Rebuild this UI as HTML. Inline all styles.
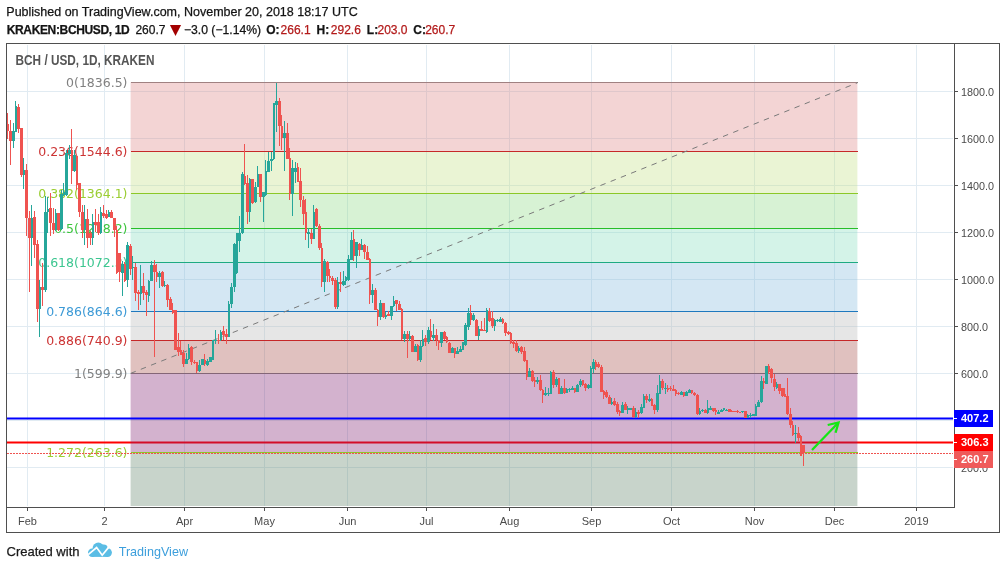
<!DOCTYPE html><html><head><meta charset="utf-8"><style>
html,body{margin:0;padding:0;background:#fff;width:1006px;height:569px;overflow:hidden}
svg{position:absolute;left:0;top:0}
</style></head><body>
<svg width="1006" height="569" viewBox="0 0 1006 569" shape-rendering="crispEdges">
<text x="6.3" y="15.6" font-family='"Liberation Sans", Arial, sans-serif' font-size="12.5" fill="#141414" stroke="#141414" stroke-width="0.25">Published on TradingView.com, November 20, 2018 18:17 UTC</text>
<text x="6.7" y="33.9" font-family='"Liberation Sans", Arial, sans-serif' font-size="12" font-weight="bold" fill="#141414" stroke="#141414" stroke-width="0.25" letter-spacing="-0.35">KRAKEN:BCHUSD, 1D</text>
<text x="135.4" y="33.9" font-family='"Liberation Sans", Arial, sans-serif' font-size="12" fill="#141414" stroke="#141414" stroke-width="0.25">260.7</text>
<path d="M169.9 25 L181.1 25 L175.5 35.9 Z" fill="#a30000" shape-rendering="auto"/>
<text x="183.9" y="33.9" font-family='"Liberation Sans", Arial, sans-serif' font-size="12.2" fill="#141414" stroke="#141414" stroke-width="0.25">&#8722;3.0 (&#8722;1.14%)</text>
<text x="266.2" y="33.9" font-family='"Liberation Sans", Arial, sans-serif' font-size="12" font-weight="bold" fill="#141414" stroke="#141414" stroke-width="0.25">O:</text>
<text x="280.6" y="33.9" font-family='"Liberation Sans", Arial, sans-serif' font-size="12" fill="#b31b1b" stroke="#b31b1b" stroke-width="0.25">266.1</text>
<text x="316.6" y="33.9" font-family='"Liberation Sans", Arial, sans-serif' font-size="12" font-weight="bold" fill="#141414" stroke="#141414" stroke-width="0.25">H:</text>
<text x="330.8" y="33.9" font-family='"Liberation Sans", Arial, sans-serif' font-size="12" fill="#b31b1b" stroke="#b31b1b" stroke-width="0.25">292.6</text>
<text x="366.8" y="33.9" font-family='"Liberation Sans", Arial, sans-serif' font-size="12" font-weight="bold" fill="#141414" stroke="#141414" stroke-width="0.25">L:</text>
<text x="377.5" y="33.9" font-family='"Liberation Sans", Arial, sans-serif' font-size="12" fill="#b31b1b" stroke="#b31b1b" stroke-width="0.25">203.0</text>
<text x="413.3" y="33.9" font-family='"Liberation Sans", Arial, sans-serif' font-size="12" font-weight="bold" fill="#141414" stroke="#141414" stroke-width="0.25">C:</text>
<text x="425.2" y="33.9" font-family='"Liberation Sans", Arial, sans-serif' font-size="12" fill="#b31b1b" stroke="#b31b1b" stroke-width="0.25">260.7</text>
<rect x="27" y="45" width="1" height="461" fill="#e1ebf2"/>
<rect x="104" y="45" width="1" height="461" fill="#e1ebf2"/>
<rect x="184" y="45" width="1" height="461" fill="#e1ebf2"/>
<rect x="264" y="45" width="1" height="461" fill="#e1ebf2"/>
<rect x="347" y="45" width="1" height="461" fill="#e1ebf2"/>
<rect x="426" y="45" width="1" height="461" fill="#e1ebf2"/>
<rect x="509" y="45" width="1" height="461" fill="#e1ebf2"/>
<rect x="591" y="45" width="1" height="461" fill="#e1ebf2"/>
<rect x="671" y="45" width="1" height="461" fill="#e1ebf2"/>
<rect x="754" y="45" width="1" height="461" fill="#e1ebf2"/>
<rect x="834" y="45" width="1" height="461" fill="#e1ebf2"/>
<rect x="916" y="45" width="1" height="461" fill="#e1ebf2"/>
<rect x="7" y="467" width="946" height="1" fill="#e1ebf2"/>
<rect x="7" y="420" width="946" height="1" fill="#e1ebf2"/>
<rect x="7" y="373" width="946" height="1" fill="#e1ebf2"/>
<rect x="7" y="326" width="946" height="1" fill="#e1ebf2"/>
<rect x="7" y="279" width="946" height="1" fill="#e1ebf2"/>
<rect x="7" y="232" width="946" height="1" fill="#e1ebf2"/>
<rect x="7" y="185" width="946" height="1" fill="#e1ebf2"/>
<rect x="7" y="138" width="946" height="1" fill="#e1ebf2"/>
<rect x="7" y="91" width="946" height="1" fill="#e1ebf2"/>
<rect x="7" y="441.5" width="946" height="2" fill="#ff0000" shape-rendering="auto"/>
<rect x="131" y="82" width="727" height="1" fill="#808080"/>
<rect x="131" y="373" width="727" height="1" fill="#808080"/>
<rect x="130.6" y="82.0" width="726.8" height="69.4" fill="rgb(221,132,132)" fill-opacity="0.35" shape-rendering="auto"/>
<rect x="130.6" y="151.4" width="726.8" height="42.4" fill="rgb(195,224,132)" fill-opacity="0.35" shape-rendering="auto"/>
<rect x="130.6" y="193.8" width="726.8" height="34.3" fill="rgb(141,218,132)" fill-opacity="0.35" shape-rendering="auto"/>
<rect x="130.6" y="228.1" width="726.8" height="34.3" fill="rgb(132,221,189)" fill-opacity="0.35" shape-rendering="auto"/>
<rect x="130.6" y="262.4" width="726.8" height="48.8" fill="rgb(132,186,221)" fill-opacity="0.35" shape-rendering="auto"/>
<rect x="130.6" y="311.2" width="726.8" height="29.1" fill="rgb(184,184,184)" fill-opacity="0.35" shape-rendering="auto"/>
<rect x="130.6" y="340.3" width="726.8" height="33.1" fill="rgb(166,78,72)" fill-opacity="0.35" shape-rendering="auto"/>
<rect x="130.6" y="373.4" width="726.8" height="79.0" fill="rgb(129,35,115)" fill-opacity="0.35" shape-rendering="auto"/>
<rect x="130.6" y="452.5" width="726.8" height="53.5" fill="rgb(98,132,106)" fill-opacity="0.35" shape-rendering="auto"/>
<rect x="131" y="151" width="727" height="1" fill="#c62828"/>
<rect x="131" y="193" width="727" height="1" fill="#8cc828"/>
<rect x="131" y="228" width="727" height="1" fill="#28be28"/>
<rect x="131" y="262" width="727" height="1" fill="#1eaa82"/>
<rect x="131" y="311" width="727" height="1" fill="#1e78be"/>
<rect x="131" y="340" width="727" height="1" fill="#c62828"/>
<rect x="131" y="452" width="727" height="1" fill="#8cc828"/>
<line x1="130.6" y1="373.4" x2="857.4" y2="82.8" stroke="#7a7a7a" stroke-width="1" stroke-dasharray="5.5 5.5" shape-rendering="auto"/>
<text x="127.5" y="87.2" text-anchor="end" font-family="DejaVu Sans, sans-serif" font-size="12.5" fill="#808080">0(1836.5)</text>
<text x="127.5" y="155.8" text-anchor="end" font-family="DejaVu Sans, sans-serif" font-size="12.5" fill="#cc3333">0.236(1544.6)</text>
<text x="127.5" y="198.2" text-anchor="end" font-family="DejaVu Sans, sans-serif" font-size="12.5" fill="#9acd32">0.382(1364.1)</text>
<text x="127.5" y="232.5" text-anchor="end" font-family="DejaVu Sans, sans-serif" font-size="12.5" fill="#3cc43c">0.5(1218.2)</text>
<text x="127.5" y="266.8" text-anchor="end" font-family="DejaVu Sans, sans-serif" font-size="12.5" fill="#3cc690">0.618(1072.3)</text>
<text x="127.5" y="315.6" text-anchor="end" font-family="DejaVu Sans, sans-serif" font-size="12.5" fill="#3d9ad6">0.786(864.6)</text>
<text x="127.5" y="344.7" text-anchor="end" font-family="DejaVu Sans, sans-serif" font-size="12.5" fill="#cc3333">0.886(740.9)</text>
<text x="127.5" y="377.8" text-anchor="end" font-family="DejaVu Sans, sans-serif" font-size="12.5" fill="#808080">1(599.9)</text>
<text x="127.5" y="456.9" text-anchor="end" font-family="DejaVu Sans, sans-serif" font-size="12.5" fill="#9acd32">1.272(263.6)</text>
<rect x="7" y="417.5" width="946" height="2" fill="#0000ff" shape-rendering="auto"/>
<line x1="7" y1="453.5" x2="953" y2="453.5" stroke="#ef5350" stroke-width="1" stroke-dasharray="2 1"/>
<g shape-rendering="crispEdges"><rect x="7" y="113" width="1" height="26" fill="#ef5350"/><rect x="7" y="124" width="2" height="7" fill="#ef5350"/><rect x="10" y="120" width="1" height="45" fill="#ef5350"/><rect x="9" y="131" width="3" height="10" fill="#ef5350"/><rect x="13" y="123" width="1" height="25" fill="#26a69a"/><rect x="12" y="131" width="3" height="10" fill="#26a69a"/><rect x="15" y="101" width="1" height="31" fill="#26a69a"/><rect x="15" y="106" width="2" height="26" fill="#26a69a"/><rect x="18" y="104" width="1" height="29" fill="#ef5350"/><rect x="17" y="107" width="3" height="22" fill="#ef5350"/><rect x="21" y="128" width="1" height="49" fill="#ef5350"/><rect x="20" y="128" width="3" height="47" fill="#ef5350"/><rect x="23" y="158" width="1" height="31" fill="#26a69a"/><rect x="23" y="170" width="2" height="5" fill="#26a69a"/><rect x="26" y="164" width="1" height="72" fill="#ef5350"/><rect x="25" y="170" width="3" height="48" fill="#ef5350"/><rect x="29" y="211" width="1" height="81" fill="#ef5350"/><rect x="28" y="218" width="3" height="20" fill="#ef5350"/><rect x="31" y="205" width="1" height="61" fill="#26a69a"/><rect x="31" y="218" width="2" height="20" fill="#26a69a"/><rect x="34" y="211" width="1" height="47" fill="#ef5350"/><rect x="33" y="217" width="3" height="28" fill="#ef5350"/><rect x="37" y="240" width="1" height="82" fill="#ef5350"/><rect x="36" y="244" width="3" height="65" fill="#ef5350"/><rect x="39" y="280" width="1" height="57" fill="#26a69a"/><rect x="39" y="287" width="2" height="22" fill="#26a69a"/><rect x="42" y="263" width="1" height="43" fill="#ef5350"/><rect x="41" y="287" width="3" height="3" fill="#ef5350"/><rect x="45" y="196" width="1" height="96" fill="#26a69a"/><rect x="44" y="212" width="3" height="78" fill="#26a69a"/><rect x="47" y="197" width="1" height="36" fill="#26a69a"/><rect x="47" y="209" width="2" height="3" fill="#26a69a"/><rect x="50" y="193" width="1" height="43" fill="#ef5350"/><rect x="49" y="208" width="3" height="15" fill="#ef5350"/><rect x="53" y="208" width="1" height="26" fill="#ef5350"/><rect x="52" y="223" width="3" height="7" fill="#ef5350"/><rect x="55" y="209" width="1" height="22" fill="#26a69a"/><rect x="55" y="213" width="2" height="17" fill="#26a69a"/><rect x="58" y="213" width="1" height="18" fill="#ef5350"/><rect x="57" y="213" width="3" height="17" fill="#ef5350"/><rect x="61" y="190" width="1" height="40" fill="#26a69a"/><rect x="60" y="194" width="3" height="35" fill="#26a69a"/><rect x="63" y="183" width="1" height="13" fill="#26a69a"/><rect x="63" y="192" width="2" height="3" fill="#26a69a"/><rect x="66" y="150" width="1" height="46" fill="#26a69a"/><rect x="65" y="153" width="3" height="42" fill="#26a69a"/><rect x="69" y="145" width="1" height="14" fill="#26a69a"/><rect x="68" y="150" width="3" height="4" fill="#26a69a"/><rect x="71" y="129" width="1" height="55" fill="#ef5350"/><rect x="71" y="150" width="2" height="21" fill="#ef5350"/><rect x="74" y="150" width="1" height="22" fill="#26a69a"/><rect x="73" y="155" width="3" height="16" fill="#26a69a"/><rect x="76" y="155" width="1" height="35" fill="#ef5350"/><rect x="76" y="156" width="2" height="29" fill="#ef5350"/><rect x="79" y="183" width="1" height="34" fill="#ef5350"/><rect x="78" y="183" width="3" height="29" fill="#ef5350"/><rect x="82" y="205" width="1" height="33" fill="#ef5350"/><rect x="81" y="212" width="3" height="18" fill="#ef5350"/><rect x="84" y="205" width="1" height="40" fill="#26a69a"/><rect x="84" y="219" width="2" height="11" fill="#26a69a"/><rect x="87" y="209" width="1" height="39" fill="#ef5350"/><rect x="86" y="219" width="3" height="19" fill="#ef5350"/><rect x="90" y="231" width="1" height="14" fill="#ef5350"/><rect x="89" y="233" width="3" height="5" fill="#ef5350"/><rect x="92" y="214" width="1" height="31" fill="#26a69a"/><rect x="92" y="222" width="2" height="16" fill="#26a69a"/><rect x="95" y="209" width="1" height="23" fill="#ef5350"/><rect x="94" y="222" width="3" height="3" fill="#ef5350"/><rect x="98" y="214" width="1" height="21" fill="#ef5350"/><rect x="97" y="222" width="3" height="11" fill="#ef5350"/><rect x="100" y="207" width="1" height="27" fill="#26a69a"/><rect x="100" y="212" width="2" height="21" fill="#26a69a"/><rect x="103" y="205" width="1" height="13" fill="#ef5350"/><rect x="102" y="213" width="3" height="3" fill="#ef5350"/><rect x="106" y="210" width="1" height="9" fill="#ef5350"/><rect x="105" y="214" width="3" height="4" fill="#ef5350"/><rect x="108" y="210" width="1" height="7" fill="#26a69a"/><rect x="108" y="212" width="2" height="5" fill="#26a69a"/><rect x="111" y="210" width="1" height="8" fill="#ef5350"/><rect x="110" y="212" width="3" height="6" fill="#ef5350"/><rect x="114" y="218" width="1" height="19" fill="#ef5350"/><rect x="113" y="218" width="3" height="12" fill="#ef5350"/><rect x="116" y="226" width="1" height="48" fill="#ef5350"/><rect x="116" y="230" width="2" height="43" fill="#ef5350"/><rect x="119" y="253" width="1" height="29" fill="#ef5350"/><rect x="118" y="253" width="3" height="19" fill="#ef5350"/><rect x="122" y="261" width="1" height="35" fill="#26a69a"/><rect x="121" y="264" width="3" height="9" fill="#26a69a"/><rect x="124" y="262" width="1" height="20" fill="#ef5350"/><rect x="124" y="264" width="2" height="17" fill="#ef5350"/><rect x="127" y="242" width="1" height="45" fill="#26a69a"/><rect x="126" y="245" width="3" height="35" fill="#26a69a"/><rect x="130" y="244" width="1" height="31" fill="#ef5350"/><rect x="129" y="246" width="3" height="23" fill="#ef5350"/><rect x="132" y="256" width="1" height="24" fill="#26a69a"/><rect x="132" y="267" width="2" height="1" fill="#26a69a"/><rect x="135" y="263" width="1" height="38" fill="#ef5350"/><rect x="134" y="267" width="3" height="26" fill="#ef5350"/><rect x="138" y="290" width="1" height="20" fill="#ef5350"/><rect x="137" y="292" width="3" height="2" fill="#ef5350"/><rect x="140" y="265" width="1" height="40" fill="#26a69a"/><rect x="140" y="286" width="2" height="8" fill="#26a69a"/><rect x="143" y="273" width="1" height="27" fill="#ef5350"/><rect x="142" y="286" width="3" height="7" fill="#ef5350"/><rect x="146" y="290" width="1" height="26" fill="#ef5350"/><rect x="145" y="292" width="3" height="3" fill="#ef5350"/><rect x="148" y="280" width="1" height="22" fill="#26a69a"/><rect x="148" y="281" width="2" height="15" fill="#26a69a"/><rect x="151" y="261" width="1" height="20" fill="#26a69a"/><rect x="150" y="265" width="3" height="16" fill="#26a69a"/><rect x="154" y="260" width="1" height="97" fill="#ef5350"/><rect x="153" y="265" width="3" height="7" fill="#ef5350"/><rect x="156" y="264" width="1" height="18" fill="#ef5350"/><rect x="156" y="272" width="2" height="5" fill="#ef5350"/><rect x="159" y="271" width="1" height="17" fill="#26a69a"/><rect x="158" y="273" width="3" height="4" fill="#26a69a"/><rect x="162" y="271" width="1" height="16" fill="#ef5350"/><rect x="161" y="272" width="3" height="14" fill="#ef5350"/><rect x="164" y="281" width="1" height="6" fill="#26a69a"/><rect x="164" y="285" width="2" height="1" fill="#26a69a"/><rect x="167" y="284" width="1" height="23" fill="#ef5350"/><rect x="166" y="285" width="3" height="15" fill="#ef5350"/><rect x="170" y="297" width="1" height="13" fill="#ef5350"/><rect x="169" y="299" width="3" height="11" fill="#ef5350"/><rect x="172" y="303" width="1" height="11" fill="#ef5350"/><rect x="172" y="310" width="2" height="3" fill="#ef5350"/><rect x="175" y="310" width="1" height="40" fill="#ef5350"/><rect x="174" y="310" width="3" height="40" fill="#ef5350"/><rect x="178" y="333" width="1" height="23" fill="#ef5350"/><rect x="177" y="347" width="3" height="5" fill="#ef5350"/><rect x="180" y="341" width="1" height="14" fill="#ef5350"/><rect x="180" y="350" width="2" height="5" fill="#ef5350"/><rect x="183" y="350" width="1" height="17" fill="#ef5350"/><rect x="182" y="353" width="3" height="11" fill="#ef5350"/><rect x="186" y="353" width="1" height="11" fill="#26a69a"/><rect x="185" y="359" width="3" height="5" fill="#26a69a"/><rect x="188" y="344" width="1" height="16" fill="#26a69a"/><rect x="188" y="348" width="2" height="11" fill="#26a69a"/><rect x="191" y="346" width="1" height="19" fill="#ef5350"/><rect x="190" y="347" width="3" height="15" fill="#ef5350"/><rect x="194" y="360" width="1" height="4" fill="#ef5350"/><rect x="193" y="362" width="3" height="1" fill="#ef5350"/><rect x="196" y="362" width="1" height="11" fill="#ef5350"/><rect x="196" y="362" width="2" height="9" fill="#ef5350"/><rect x="199" y="360" width="1" height="12" fill="#26a69a"/><rect x="198" y="365" width="3" height="6" fill="#26a69a"/><rect x="202" y="359" width="1" height="6" fill="#26a69a"/><rect x="201" y="359" width="3" height="6" fill="#26a69a"/><rect x="204" y="354" width="1" height="12" fill="#ef5350"/><rect x="204" y="360" width="2" height="4" fill="#ef5350"/><rect x="207" y="359" width="1" height="7" fill="#26a69a"/><rect x="206" y="361" width="3" height="4" fill="#26a69a"/><rect x="210" y="357" width="1" height="5" fill="#26a69a"/><rect x="209" y="357" width="3" height="5" fill="#26a69a"/><rect x="212" y="340" width="1" height="20" fill="#26a69a"/><rect x="212" y="340" width="2" height="20" fill="#26a69a"/><rect x="215" y="330" width="1" height="14" fill="#26a69a"/><rect x="214" y="340" width="3" height="1" fill="#26a69a"/><rect x="218" y="334" width="1" height="10" fill="#ef5350"/><rect x="217" y="340" width="3" height="1" fill="#ef5350"/><rect x="220" y="330" width="1" height="11" fill="#26a69a"/><rect x="220" y="332" width="2" height="8" fill="#26a69a"/><rect x="223" y="326" width="1" height="14" fill="#ef5350"/><rect x="222" y="331" width="3" height="4" fill="#ef5350"/><rect x="226" y="329" width="1" height="15" fill="#ef5350"/><rect x="225" y="334" width="3" height="3" fill="#ef5350"/><rect x="228" y="301" width="1" height="36" fill="#26a69a"/><rect x="228" y="304" width="2" height="33" fill="#26a69a"/><rect x="231" y="283" width="1" height="25" fill="#26a69a"/><rect x="230" y="287" width="3" height="17" fill="#26a69a"/><rect x="234" y="243" width="1" height="49" fill="#26a69a"/><rect x="233" y="244" width="3" height="43" fill="#26a69a"/><rect x="236" y="233" width="1" height="41" fill="#26a69a"/><rect x="236" y="233" width="2" height="40" fill="#26a69a"/><rect x="239" y="216" width="1" height="36" fill="#26a69a"/><rect x="238" y="233" width="3" height="8" fill="#26a69a"/><rect x="242" y="172" width="1" height="62" fill="#26a69a"/><rect x="241" y="174" width="3" height="59" fill="#26a69a"/><rect x="244" y="144" width="1" height="41" fill="#ef5350"/><rect x="244" y="176" width="2" height="8" fill="#ef5350"/><rect x="247" y="175" width="1" height="49" fill="#ef5350"/><rect x="246" y="183" width="3" height="29" fill="#ef5350"/><rect x="249" y="178" width="1" height="44" fill="#26a69a"/><rect x="249" y="179" width="2" height="33" fill="#26a69a"/><rect x="252" y="179" width="1" height="25" fill="#ef5350"/><rect x="251" y="179" width="3" height="24" fill="#ef5350"/><rect x="255" y="182" width="1" height="21" fill="#26a69a"/><rect x="254" y="187" width="3" height="15" fill="#26a69a"/><rect x="257" y="166" width="1" height="21" fill="#26a69a"/><rect x="257" y="174" width="2" height="13" fill="#26a69a"/><rect x="260" y="174" width="1" height="28" fill="#ef5350"/><rect x="259" y="174" width="3" height="23" fill="#ef5350"/><rect x="263" y="192" width="1" height="30" fill="#26a69a"/><rect x="262" y="192" width="3" height="5" fill="#26a69a"/><rect x="265" y="160" width="1" height="36" fill="#26a69a"/><rect x="265" y="171" width="2" height="24" fill="#26a69a"/><rect x="268" y="152" width="1" height="20" fill="#26a69a"/><rect x="267" y="161" width="3" height="11" fill="#26a69a"/><rect x="271" y="152" width="1" height="19" fill="#26a69a"/><rect x="270" y="159" width="3" height="2" fill="#26a69a"/><rect x="273" y="103" width="1" height="57" fill="#26a69a"/><rect x="273" y="103" width="2" height="56" fill="#26a69a"/><rect x="276" y="83" width="1" height="49" fill="#26a69a"/><rect x="275" y="101" width="3" height="4" fill="#26a69a"/><rect x="279" y="98" width="1" height="48" fill="#ef5350"/><rect x="278" y="101" width="3" height="25" fill="#ef5350"/><rect x="281" y="115" width="1" height="35" fill="#ef5350"/><rect x="281" y="126" width="2" height="12" fill="#ef5350"/><rect x="284" y="121" width="1" height="50" fill="#26a69a"/><rect x="283" y="133" width="3" height="5" fill="#26a69a"/><rect x="287" y="123" width="1" height="36" fill="#ef5350"/><rect x="286" y="133" width="3" height="26" fill="#ef5350"/><rect x="289" y="148" width="1" height="52" fill="#ef5350"/><rect x="289" y="158" width="2" height="36" fill="#ef5350"/><rect x="292" y="160" width="1" height="56" fill="#26a69a"/><rect x="291" y="168" width="3" height="26" fill="#26a69a"/><rect x="295" y="162" width="1" height="21" fill="#26a69a"/><rect x="294" y="168" width="3" height="4" fill="#26a69a"/><rect x="297" y="163" width="1" height="19" fill="#ef5350"/><rect x="297" y="167" width="2" height="15" fill="#ef5350"/><rect x="300" y="168" width="1" height="39" fill="#ef5350"/><rect x="299" y="181" width="3" height="19" fill="#ef5350"/><rect x="303" y="196" width="1" height="29" fill="#ef5350"/><rect x="302" y="200" width="3" height="14" fill="#ef5350"/><rect x="305" y="199" width="1" height="41" fill="#ef5350"/><rect x="305" y="212" width="2" height="21" fill="#ef5350"/><rect x="308" y="228" width="1" height="20" fill="#26a69a"/><rect x="307" y="232" width="3" height="2" fill="#26a69a"/><rect x="311" y="229" width="1" height="15" fill="#ef5350"/><rect x="310" y="233" width="3" height="6" fill="#ef5350"/><rect x="313" y="205" width="1" height="34" fill="#26a69a"/><rect x="313" y="212" width="2" height="27" fill="#26a69a"/><rect x="316" y="208" width="1" height="19" fill="#ef5350"/><rect x="315" y="209" width="3" height="17" fill="#ef5350"/><rect x="319" y="224" width="1" height="26" fill="#ef5350"/><rect x="318" y="226" width="3" height="22" fill="#ef5350"/><rect x="321" y="243" width="1" height="44" fill="#ef5350"/><rect x="321" y="248" width="2" height="34" fill="#ef5350"/><rect x="324" y="259" width="1" height="33" fill="#26a69a"/><rect x="323" y="261" width="3" height="21" fill="#26a69a"/><rect x="327" y="261" width="1" height="21" fill="#ef5350"/><rect x="326" y="262" width="3" height="14" fill="#ef5350"/><rect x="329" y="269" width="1" height="13" fill="#ef5350"/><rect x="329" y="276" width="2" height="2" fill="#ef5350"/><rect x="332" y="276" width="1" height="9" fill="#ef5350"/><rect x="331" y="278" width="3" height="3" fill="#ef5350"/><rect x="335" y="278" width="1" height="31" fill="#ef5350"/><rect x="334" y="280" width="3" height="27" fill="#ef5350"/><rect x="337" y="277" width="1" height="32" fill="#26a69a"/><rect x="337" y="282" width="2" height="25" fill="#26a69a"/><rect x="340" y="272" width="1" height="20" fill="#ef5350"/><rect x="339" y="282" width="3" height="2" fill="#ef5350"/><rect x="343" y="271" width="1" height="15" fill="#26a69a"/><rect x="342" y="281" width="3" height="4" fill="#26a69a"/><rect x="345" y="276" width="1" height="9" fill="#26a69a"/><rect x="345" y="277" width="2" height="4" fill="#26a69a"/><rect x="348" y="255" width="1" height="26" fill="#26a69a"/><rect x="347" y="259" width="3" height="21" fill="#26a69a"/><rect x="351" y="232" width="1" height="28" fill="#26a69a"/><rect x="350" y="240" width="3" height="20" fill="#26a69a"/><rect x="353" y="230" width="1" height="31" fill="#ef5350"/><rect x="353" y="239" width="2" height="17" fill="#ef5350"/><rect x="356" y="242" width="1" height="26" fill="#26a69a"/><rect x="355" y="242" width="3" height="14" fill="#26a69a"/><rect x="359" y="243" width="1" height="13" fill="#ef5350"/><rect x="358" y="244" width="3" height="6" fill="#ef5350"/><rect x="361" y="239" width="1" height="11" fill="#26a69a"/><rect x="361" y="245" width="2" height="5" fill="#26a69a"/><rect x="364" y="244" width="1" height="15" fill="#ef5350"/><rect x="363" y="245" width="3" height="7" fill="#ef5350"/><rect x="367" y="246" width="1" height="14" fill="#ef5350"/><rect x="366" y="252" width="3" height="8" fill="#ef5350"/><rect x="369" y="258" width="1" height="46" fill="#ef5350"/><rect x="369" y="259" width="2" height="36" fill="#ef5350"/><rect x="372" y="284" width="1" height="19" fill="#26a69a"/><rect x="371" y="290" width="3" height="5" fill="#26a69a"/><rect x="375" y="288" width="1" height="22" fill="#ef5350"/><rect x="374" y="290" width="3" height="20" fill="#ef5350"/><rect x="377" y="309" width="1" height="17" fill="#ef5350"/><rect x="377" y="310" width="2" height="7" fill="#ef5350"/><rect x="380" y="300" width="1" height="20" fill="#26a69a"/><rect x="379" y="303" width="3" height="14" fill="#26a69a"/><rect x="383" y="303" width="1" height="15" fill="#ef5350"/><rect x="382" y="303" width="3" height="14" fill="#ef5350"/><rect x="385" y="312" width="1" height="7" fill="#26a69a"/><rect x="385" y="315" width="2" height="2" fill="#26a69a"/><rect x="388" y="311" width="1" height="5" fill="#ef5350"/><rect x="387" y="314" width="3" height="2" fill="#ef5350"/><rect x="391" y="306" width="1" height="14" fill="#26a69a"/><rect x="390" y="306" width="3" height="10" fill="#26a69a"/><rect x="393" y="296" width="1" height="11" fill="#26a69a"/><rect x="393" y="301" width="2" height="5" fill="#26a69a"/><rect x="396" y="300" width="1" height="11" fill="#ef5350"/><rect x="395" y="300" width="3" height="4" fill="#ef5350"/><rect x="399" y="301" width="1" height="9" fill="#ef5350"/><rect x="398" y="304" width="3" height="6" fill="#ef5350"/><rect x="401" y="308" width="1" height="32" fill="#ef5350"/><rect x="401" y="309" width="2" height="30" fill="#ef5350"/><rect x="404" y="331" width="1" height="11" fill="#26a69a"/><rect x="403" y="334" width="3" height="5" fill="#26a69a"/><rect x="407" y="331" width="1" height="27" fill="#ef5350"/><rect x="406" y="334" width="3" height="5" fill="#ef5350"/><rect x="409" y="331" width="1" height="10" fill="#26a69a"/><rect x="409" y="336" width="2" height="3" fill="#26a69a"/><rect x="412" y="335" width="1" height="17" fill="#ef5350"/><rect x="411" y="336" width="3" height="16" fill="#ef5350"/><rect x="415" y="344" width="1" height="8" fill="#26a69a"/><rect x="414" y="346" width="3" height="6" fill="#26a69a"/><rect x="417" y="344" width="1" height="17" fill="#ef5350"/><rect x="417" y="345" width="2" height="15" fill="#ef5350"/><rect x="420" y="340" width="1" height="22" fill="#26a69a"/><rect x="419" y="346" width="3" height="14" fill="#26a69a"/><rect x="422" y="330" width="1" height="17" fill="#26a69a"/><rect x="422" y="339" width="2" height="7" fill="#26a69a"/><rect x="425" y="335" width="1" height="11" fill="#ef5350"/><rect x="424" y="338" width="3" height="4" fill="#ef5350"/><rect x="428" y="327" width="1" height="17" fill="#26a69a"/><rect x="427" y="330" width="3" height="12" fill="#26a69a"/><rect x="430" y="319" width="1" height="21" fill="#ef5350"/><rect x="430" y="331" width="2" height="6" fill="#ef5350"/><rect x="433" y="324" width="1" height="17" fill="#26a69a"/><rect x="432" y="335" width="3" height="3" fill="#26a69a"/><rect x="436" y="329" width="1" height="17" fill="#ef5350"/><rect x="435" y="335" width="3" height="5" fill="#ef5350"/><rect x="438" y="340" width="1" height="10" fill="#ef5350"/><rect x="438" y="340" width="2" height="3" fill="#ef5350"/><rect x="441" y="332" width="1" height="15" fill="#26a69a"/><rect x="440" y="332" width="3" height="11" fill="#26a69a"/><rect x="444" y="331" width="1" height="9" fill="#ef5350"/><rect x="443" y="332" width="3" height="7" fill="#ef5350"/><rect x="446" y="336" width="1" height="7" fill="#ef5350"/><rect x="446" y="337" width="2" height="5" fill="#ef5350"/><rect x="449" y="342" width="1" height="11" fill="#ef5350"/><rect x="448" y="343" width="3" height="10" fill="#ef5350"/><rect x="452" y="347" width="1" height="6" fill="#26a69a"/><rect x="451" y="348" width="3" height="5" fill="#26a69a"/><rect x="454" y="348" width="1" height="10" fill="#ef5350"/><rect x="454" y="348" width="2" height="6" fill="#ef5350"/><rect x="457" y="347" width="1" height="7" fill="#26a69a"/><rect x="456" y="351" width="3" height="3" fill="#26a69a"/><rect x="460" y="346" width="1" height="6" fill="#26a69a"/><rect x="459" y="349" width="3" height="3" fill="#26a69a"/><rect x="462" y="342" width="1" height="8" fill="#26a69a"/><rect x="462" y="342" width="2" height="8" fill="#26a69a"/><rect x="465" y="323" width="1" height="23" fill="#26a69a"/><rect x="464" y="325" width="3" height="20" fill="#26a69a"/><rect x="468" y="308" width="1" height="22" fill="#26a69a"/><rect x="467" y="313" width="3" height="14" fill="#26a69a"/><rect x="470" y="305" width="1" height="20" fill="#ef5350"/><rect x="470" y="313" width="2" height="7" fill="#ef5350"/><rect x="473" y="313" width="1" height="8" fill="#26a69a"/><rect x="472" y="315" width="3" height="5" fill="#26a69a"/><rect x="476" y="319" width="1" height="17" fill="#ef5350"/><rect x="475" y="320" width="3" height="16" fill="#ef5350"/><rect x="478" y="326" width="1" height="14" fill="#26a69a"/><rect x="478" y="329" width="2" height="7" fill="#26a69a"/><rect x="481" y="321" width="1" height="10" fill="#ef5350"/><rect x="480" y="329" width="3" height="2" fill="#ef5350"/><rect x="484" y="318" width="1" height="13" fill="#ef5350"/><rect x="483" y="330" width="3" height="1" fill="#ef5350"/><rect x="486" y="308" width="1" height="25" fill="#26a69a"/><rect x="486" y="310" width="2" height="22" fill="#26a69a"/><rect x="489" y="308" width="1" height="14" fill="#ef5350"/><rect x="488" y="311" width="3" height="10" fill="#ef5350"/><rect x="492" y="311" width="1" height="17" fill="#ef5350"/><rect x="491" y="318" width="3" height="8" fill="#ef5350"/><rect x="494" y="319" width="1" height="12" fill="#26a69a"/><rect x="494" y="320" width="2" height="6" fill="#26a69a"/><rect x="497" y="319" width="1" height="3" fill="#26a69a"/><rect x="496" y="320" width="3" height="1" fill="#26a69a"/><rect x="500" y="317" width="1" height="5" fill="#26a69a"/><rect x="499" y="319" width="3" height="3" fill="#26a69a"/><rect x="502" y="318" width="1" height="6" fill="#ef5350"/><rect x="502" y="319" width="2" height="4" fill="#ef5350"/><rect x="505" y="322" width="1" height="14" fill="#ef5350"/><rect x="504" y="323" width="3" height="10" fill="#ef5350"/><rect x="508" y="331" width="1" height="4" fill="#ef5350"/><rect x="507" y="332" width="3" height="2" fill="#ef5350"/><rect x="510" y="332" width="1" height="12" fill="#ef5350"/><rect x="510" y="333" width="2" height="10" fill="#ef5350"/><rect x="513" y="340" width="1" height="8" fill="#ef5350"/><rect x="512" y="342" width="3" height="2" fill="#ef5350"/><rect x="516" y="340" width="1" height="12" fill="#ef5350"/><rect x="515" y="343" width="3" height="8" fill="#ef5350"/><rect x="518" y="346" width="1" height="7" fill="#26a69a"/><rect x="518" y="348" width="2" height="3" fill="#26a69a"/><rect x="521" y="346" width="1" height="8" fill="#ef5350"/><rect x="520" y="347" width="3" height="5" fill="#ef5350"/><rect x="524" y="347" width="1" height="15" fill="#ef5350"/><rect x="523" y="351" width="3" height="10" fill="#ef5350"/><rect x="526" y="360" width="1" height="20" fill="#ef5350"/><rect x="526" y="360" width="2" height="17" fill="#ef5350"/><rect x="529" y="368" width="1" height="9" fill="#26a69a"/><rect x="528" y="371" width="3" height="6" fill="#26a69a"/><rect x="532" y="370" width="1" height="12" fill="#ef5350"/><rect x="531" y="371" width="3" height="10" fill="#ef5350"/><rect x="534" y="377" width="1" height="10" fill="#ef5350"/><rect x="534" y="380" width="2" height="2" fill="#ef5350"/><rect x="537" y="377" width="1" height="7" fill="#26a69a"/><rect x="536" y="380" width="3" height="2" fill="#26a69a"/><rect x="540" y="375" width="1" height="16" fill="#ef5350"/><rect x="539" y="380" width="3" height="10" fill="#ef5350"/><rect x="542" y="389" width="1" height="14" fill="#ef5350"/><rect x="542" y="390" width="2" height="5" fill="#ef5350"/><rect x="545" y="387" width="1" height="9" fill="#26a69a"/><rect x="544" y="393" width="3" height="2" fill="#26a69a"/><rect x="548" y="388" width="1" height="8" fill="#26a69a"/><rect x="547" y="393" width="3" height="1" fill="#26a69a"/><rect x="550" y="371" width="1" height="23" fill="#26a69a"/><rect x="550" y="372" width="2" height="22" fill="#26a69a"/><rect x="553" y="370" width="1" height="18" fill="#ef5350"/><rect x="552" y="372" width="3" height="13" fill="#ef5350"/><rect x="556" y="377" width="1" height="10" fill="#26a69a"/><rect x="555" y="379" width="3" height="6" fill="#26a69a"/><rect x="558" y="378" width="1" height="16" fill="#ef5350"/><rect x="558" y="378" width="2" height="16" fill="#ef5350"/><rect x="561" y="386" width="1" height="8" fill="#26a69a"/><rect x="560" y="388" width="3" height="6" fill="#26a69a"/><rect x="564" y="379" width="1" height="15" fill="#ef5350"/><rect x="563" y="388" width="3" height="5" fill="#ef5350"/><rect x="566" y="388" width="1" height="5" fill="#26a69a"/><rect x="566" y="389" width="2" height="4" fill="#26a69a"/><rect x="569" y="388" width="1" height="4" fill="#26a69a"/><rect x="568" y="389" width="3" height="1" fill="#26a69a"/><rect x="572" y="386" width="1" height="4" fill="#26a69a"/><rect x="571" y="388" width="3" height="2" fill="#26a69a"/><rect x="574" y="388" width="1" height="5" fill="#ef5350"/><rect x="574" y="388" width="2" height="4" fill="#ef5350"/><rect x="577" y="384" width="1" height="8" fill="#26a69a"/><rect x="576" y="385" width="3" height="7" fill="#26a69a"/><rect x="580" y="379" width="1" height="8" fill="#26a69a"/><rect x="579" y="381" width="3" height="4" fill="#26a69a"/><rect x="582" y="380" width="1" height="6" fill="#ef5350"/><rect x="582" y="380" width="2" height="5" fill="#ef5350"/><rect x="585" y="383" width="1" height="8" fill="#ef5350"/><rect x="584" y="384" width="3" height="4" fill="#ef5350"/><rect x="588" y="384" width="1" height="5" fill="#26a69a"/><rect x="587" y="385" width="3" height="3" fill="#26a69a"/><rect x="590" y="366" width="1" height="22" fill="#26a69a"/><rect x="590" y="368" width="2" height="20" fill="#26a69a"/><rect x="593" y="359" width="1" height="14" fill="#26a69a"/><rect x="592" y="362" width="3" height="7" fill="#26a69a"/><rect x="595" y="360" width="1" height="10" fill="#ef5350"/><rect x="595" y="362" width="2" height="5" fill="#ef5350"/><rect x="598" y="362" width="1" height="6" fill="#ef5350"/><rect x="597" y="364" width="3" height="3" fill="#ef5350"/><rect x="601" y="365" width="1" height="27" fill="#ef5350"/><rect x="600" y="367" width="3" height="25" fill="#ef5350"/><rect x="603" y="390" width="1" height="9" fill="#ef5350"/><rect x="603" y="391" width="2" height="4" fill="#ef5350"/><rect x="606" y="390" width="1" height="8" fill="#ef5350"/><rect x="605" y="392" width="3" height="5" fill="#ef5350"/><rect x="609" y="395" width="1" height="9" fill="#ef5350"/><rect x="608" y="397" width="3" height="7" fill="#ef5350"/><rect x="611" y="398" width="1" height="7" fill="#26a69a"/><rect x="611" y="402" width="2" height="2" fill="#26a69a"/><rect x="614" y="398" width="1" height="8" fill="#ef5350"/><rect x="613" y="401" width="3" height="4" fill="#ef5350"/><rect x="617" y="402" width="1" height="12" fill="#ef5350"/><rect x="616" y="404" width="3" height="8" fill="#ef5350"/><rect x="619" y="410" width="1" height="6" fill="#ef5350"/><rect x="619" y="411" width="2" height="2" fill="#ef5350"/><rect x="622" y="402" width="1" height="11" fill="#26a69a"/><rect x="621" y="405" width="3" height="8" fill="#26a69a"/><rect x="625" y="402" width="1" height="8" fill="#ef5350"/><rect x="624" y="404" width="3" height="6" fill="#ef5350"/><rect x="627" y="406" width="1" height="8" fill="#26a69a"/><rect x="627" y="408" width="2" height="2" fill="#26a69a"/><rect x="630" y="408" width="1" height="2" fill="#26a69a"/><rect x="629" y="408" width="3" height="2" fill="#26a69a"/><rect x="633" y="406" width="1" height="12" fill="#ef5350"/><rect x="632" y="408" width="3" height="9" fill="#ef5350"/><rect x="635" y="408" width="1" height="10" fill="#26a69a"/><rect x="635" y="412" width="2" height="5" fill="#26a69a"/><rect x="638" y="410" width="1" height="8" fill="#ef5350"/><rect x="637" y="412" width="3" height="2" fill="#ef5350"/><rect x="641" y="404" width="1" height="10" fill="#26a69a"/><rect x="640" y="407" width="3" height="6" fill="#26a69a"/><rect x="643" y="394" width="1" height="14" fill="#26a69a"/><rect x="643" y="396" width="2" height="12" fill="#26a69a"/><rect x="646" y="394" width="1" height="9" fill="#ef5350"/><rect x="645" y="396" width="3" height="4" fill="#ef5350"/><rect x="649" y="394" width="1" height="8" fill="#26a69a"/><rect x="648" y="399" width="3" height="2" fill="#26a69a"/><rect x="651" y="398" width="1" height="8" fill="#ef5350"/><rect x="651" y="399" width="2" height="7" fill="#ef5350"/><rect x="654" y="404" width="1" height="10" fill="#ef5350"/><rect x="653" y="405" width="3" height="5" fill="#ef5350"/><rect x="657" y="385" width="1" height="27" fill="#26a69a"/><rect x="656" y="393" width="3" height="17" fill="#26a69a"/><rect x="659" y="375" width="1" height="19" fill="#26a69a"/><rect x="659" y="381" width="2" height="13" fill="#26a69a"/><rect x="662" y="379" width="1" height="11" fill="#ef5350"/><rect x="661" y="381" width="3" height="7" fill="#ef5350"/><rect x="665" y="383" width="1" height="11" fill="#26a69a"/><rect x="664" y="388" width="3" height="1" fill="#26a69a"/><rect x="667" y="385" width="1" height="7" fill="#ef5350"/><rect x="667" y="388" width="2" height="2" fill="#ef5350"/><rect x="670" y="386" width="1" height="5" fill="#ef5350"/><rect x="669" y="388" width="3" height="1" fill="#ef5350"/><rect x="673" y="385" width="1" height="6" fill="#ef5350"/><rect x="672" y="389" width="3" height="2" fill="#ef5350"/><rect x="675" y="389" width="1" height="7" fill="#ef5350"/><rect x="675" y="390" width="2" height="4" fill="#ef5350"/><rect x="678" y="392" width="1" height="3" fill="#ef5350"/><rect x="677" y="393" width="3" height="1" fill="#ef5350"/><rect x="681" y="391" width="1" height="4" fill="#26a69a"/><rect x="680" y="392" width="3" height="3" fill="#26a69a"/><rect x="683" y="392" width="1" height="5" fill="#ef5350"/><rect x="683" y="392" width="2" height="4" fill="#ef5350"/><rect x="686" y="391" width="1" height="5" fill="#26a69a"/><rect x="685" y="392" width="3" height="4" fill="#26a69a"/><rect x="689" y="389" width="1" height="4" fill="#26a69a"/><rect x="688" y="390" width="3" height="3" fill="#26a69a"/><rect x="691" y="390" width="1" height="4" fill="#ef5350"/><rect x="691" y="390" width="2" height="3" fill="#ef5350"/><rect x="694" y="392" width="1" height="4" fill="#ef5350"/><rect x="693" y="393" width="3" height="2" fill="#ef5350"/><rect x="697" y="394" width="1" height="21" fill="#ef5350"/><rect x="696" y="395" width="3" height="19" fill="#ef5350"/><rect x="699" y="408" width="1" height="7" fill="#26a69a"/><rect x="699" y="411" width="2" height="3" fill="#26a69a"/><rect x="702" y="409" width="1" height="3" fill="#26a69a"/><rect x="701" y="410" width="3" height="1" fill="#26a69a"/><rect x="705" y="409" width="1" height="4" fill="#ef5350"/><rect x="704" y="410" width="3" height="3" fill="#ef5350"/><rect x="707" y="400" width="1" height="14" fill="#26a69a"/><rect x="707" y="408" width="2" height="5" fill="#26a69a"/><rect x="710" y="406" width="1" height="4" fill="#26a69a"/><rect x="709" y="408" width="3" height="2" fill="#26a69a"/><rect x="713" y="408" width="1" height="4" fill="#ef5350"/><rect x="712" y="408" width="3" height="3" fill="#ef5350"/><rect x="715" y="408" width="1" height="7" fill="#ef5350"/><rect x="715" y="410" width="2" height="2" fill="#ef5350"/><rect x="718" y="410" width="1" height="4" fill="#26a69a"/><rect x="717" y="412" width="3" height="2" fill="#26a69a"/><rect x="721" y="409" width="1" height="3" fill="#26a69a"/><rect x="720" y="410" width="3" height="2" fill="#26a69a"/><rect x="723" y="408" width="1" height="3" fill="#26a69a"/><rect x="723" y="408" width="2" height="2" fill="#26a69a"/><rect x="726" y="409" width="1" height="2" fill="#26a69a"/><rect x="725" y="410" width="3" height="1" fill="#26a69a"/><rect x="729" y="409" width="1" height="3" fill="#ef5350"/><rect x="728" y="409" width="3" height="3" fill="#ef5350"/><rect x="731" y="410" width="1" height="2" fill="#ef5350"/><rect x="731" y="411" width="2" height="1" fill="#ef5350"/><rect x="734" y="411" width="1" height="1" fill="#ef5350"/><rect x="733" y="411" width="3" height="1" fill="#ef5350"/><rect x="737" y="410" width="1" height="3" fill="#ef5350"/><rect x="736" y="411" width="3" height="1" fill="#ef5350"/><rect x="739" y="412" width="1" height="1" fill="#ef5350"/><rect x="739" y="412" width="2" height="1" fill="#ef5350"/><rect x="742" y="411" width="1" height="2" fill="#26a69a"/><rect x="741" y="411" width="3" height="1" fill="#26a69a"/><rect x="745" y="411" width="1" height="7" fill="#ef5350"/><rect x="744" y="411" width="3" height="7" fill="#ef5350"/><rect x="747" y="414" width="1" height="4" fill="#26a69a"/><rect x="747" y="415" width="2" height="3" fill="#26a69a"/><rect x="750" y="413" width="1" height="5" fill="#26a69a"/><rect x="749" y="415" width="3" height="1" fill="#26a69a"/><rect x="753" y="414" width="1" height="2" fill="#26a69a"/><rect x="752" y="414" width="3" height="2" fill="#26a69a"/><rect x="755" y="404" width="1" height="12" fill="#26a69a"/><rect x="755" y="406" width="2" height="10" fill="#26a69a"/><rect x="758" y="400" width="1" height="7" fill="#26a69a"/><rect x="757" y="402" width="3" height="5" fill="#26a69a"/><rect x="761" y="376" width="1" height="27" fill="#26a69a"/><rect x="760" y="381" width="3" height="21" fill="#26a69a"/><rect x="763" y="378" width="1" height="11" fill="#ef5350"/><rect x="763" y="381" width="2" height="2" fill="#ef5350"/><rect x="766" y="366" width="1" height="18" fill="#26a69a"/><rect x="765" y="366" width="3" height="18" fill="#26a69a"/><rect x="768" y="364" width="1" height="10" fill="#ef5350"/><rect x="768" y="366" width="2" height="6" fill="#ef5350"/><rect x="771" y="368" width="1" height="15" fill="#ef5350"/><rect x="770" y="369" width="3" height="9" fill="#ef5350"/><rect x="774" y="374" width="1" height="17" fill="#ef5350"/><rect x="773" y="379" width="3" height="8" fill="#ef5350"/><rect x="776" y="382" width="1" height="7" fill="#26a69a"/><rect x="776" y="384" width="2" height="4" fill="#26a69a"/><rect x="779" y="384" width="1" height="10" fill="#ef5350"/><rect x="778" y="384" width="3" height="7" fill="#ef5350"/><rect x="782" y="388" width="1" height="9" fill="#ef5350"/><rect x="781" y="388" width="3" height="8" fill="#ef5350"/><rect x="784" y="388" width="1" height="9" fill="#ef5350"/><rect x="784" y="394" width="2" height="3" fill="#ef5350"/><rect x="787" y="378" width="1" height="37" fill="#ef5350"/><rect x="786" y="396" width="3" height="18" fill="#ef5350"/><rect x="790" y="408" width="1" height="20" fill="#ef5350"/><rect x="789" y="414" width="3" height="11" fill="#ef5350"/><rect x="792" y="421" width="1" height="15" fill="#ef5350"/><rect x="792" y="425" width="2" height="10" fill="#ef5350"/><rect x="795" y="425" width="1" height="18" fill="#26a69a"/><rect x="794" y="433" width="3" height="1" fill="#26a69a"/><rect x="798" y="427" width="1" height="14" fill="#ef5350"/><rect x="797" y="433" width="3" height="5" fill="#ef5350"/><rect x="800" y="435" width="1" height="21" fill="#ef5350"/><rect x="800" y="436" width="2" height="20" fill="#ef5350"/><rect x="803" y="445" width="1" height="21" fill="#ef5350"/><rect x="802" y="445" width="3" height="8" fill="#ef5350"/></g>
<g stroke="#14e614" stroke-width="2.3" fill="none" stroke-linecap="butt" stroke-linejoin="miter" shape-rendering="auto"><line x1="812" y1="450" x2="838.5" y2="422.5"/><polyline points="827.7,425 838.5,422.5 835.6,432.8"/></g>
<rect x="6" y="43" width="1" height="490" fill="#4f4f4f"/>
<rect x="6" y="43" width="994" height="1" fill="#4f4f4f"/>
<rect x="999" y="43" width="1" height="490" fill="#4f4f4f"/>
<rect x="6" y="532" width="994" height="1" fill="#4f4f4f"/>
<rect x="954" y="43" width="1" height="465" fill="#4f4f4f"/>
<rect x="6" y="507" width="949" height="1" fill="#4f4f4f"/>
<rect x="955" y="467" width="3" height="1" fill="#4f4f4f"/>
<text x="961" y="471.5" font-family='"Liberation Sans", Arial, sans-serif' font-size="10.8" fill="#4a4a4a">200.0</text>
<rect x="955" y="420" width="3" height="1" fill="#4f4f4f"/>
<text x="961" y="424.5" font-family='"Liberation Sans", Arial, sans-serif' font-size="10.8" fill="#4a4a4a">400.0</text>
<rect x="955" y="373" width="3" height="1" fill="#4f4f4f"/>
<text x="961" y="377.5" font-family='"Liberation Sans", Arial, sans-serif' font-size="10.8" fill="#4a4a4a">600.0</text>
<rect x="955" y="326" width="3" height="1" fill="#4f4f4f"/>
<text x="961" y="330.5" font-family='"Liberation Sans", Arial, sans-serif' font-size="10.8" fill="#4a4a4a">800.0</text>
<rect x="955" y="279" width="3" height="1" fill="#4f4f4f"/>
<text x="961" y="283.5" font-family='"Liberation Sans", Arial, sans-serif' font-size="10.8" fill="#4a4a4a">1000.0</text>
<rect x="955" y="232" width="3" height="1" fill="#4f4f4f"/>
<text x="961" y="236.5" font-family='"Liberation Sans", Arial, sans-serif' font-size="10.8" fill="#4a4a4a">1200.0</text>
<rect x="955" y="185" width="3" height="1" fill="#4f4f4f"/>
<text x="961" y="189.5" font-family='"Liberation Sans", Arial, sans-serif' font-size="10.8" fill="#4a4a4a">1400.0</text>
<rect x="955" y="138" width="3" height="1" fill="#4f4f4f"/>
<text x="961" y="142.5" font-family='"Liberation Sans", Arial, sans-serif' font-size="10.8" fill="#4a4a4a">1600.0</text>
<rect x="955" y="91" width="3" height="1" fill="#4f4f4f"/>
<text x="961" y="95.5" font-family='"Liberation Sans", Arial, sans-serif' font-size="10.8" fill="#4a4a4a">1800.0</text>
<rect x="27" y="508" width="1" height="3" fill="#4f4f4f"/>
<text x="27.5" y="525" text-anchor="middle" font-family='"Liberation Sans", Arial, sans-serif' font-size="11" fill="#4a4a4a">Feb</text>
<rect x="104" y="508" width="1" height="3" fill="#4f4f4f"/>
<text x="104.5" y="525" text-anchor="middle" font-family='"Liberation Sans", Arial, sans-serif' font-size="11" fill="#4a4a4a">2</text>
<rect x="184" y="508" width="1" height="3" fill="#4f4f4f"/>
<text x="184.5" y="525" text-anchor="middle" font-family='"Liberation Sans", Arial, sans-serif' font-size="11" fill="#4a4a4a">Apr</text>
<rect x="264" y="508" width="1" height="3" fill="#4f4f4f"/>
<text x="264.5" y="525" text-anchor="middle" font-family='"Liberation Sans", Arial, sans-serif' font-size="11" fill="#4a4a4a">May</text>
<rect x="347" y="508" width="1" height="3" fill="#4f4f4f"/>
<text x="347.5" y="525" text-anchor="middle" font-family='"Liberation Sans", Arial, sans-serif' font-size="11" fill="#4a4a4a">Jun</text>
<rect x="426" y="508" width="1" height="3" fill="#4f4f4f"/>
<text x="426.5" y="525" text-anchor="middle" font-family='"Liberation Sans", Arial, sans-serif' font-size="11" fill="#4a4a4a">Jul</text>
<rect x="509" y="508" width="1" height="3" fill="#4f4f4f"/>
<text x="509.5" y="525" text-anchor="middle" font-family='"Liberation Sans", Arial, sans-serif' font-size="11" fill="#4a4a4a">Aug</text>
<rect x="591" y="508" width="1" height="3" fill="#4f4f4f"/>
<text x="591.5" y="525" text-anchor="middle" font-family='"Liberation Sans", Arial, sans-serif' font-size="11" fill="#4a4a4a">Sep</text>
<rect x="671" y="508" width="1" height="3" fill="#4f4f4f"/>
<text x="671.5" y="525" text-anchor="middle" font-family='"Liberation Sans", Arial, sans-serif' font-size="11" fill="#4a4a4a">Oct</text>
<rect x="754" y="508" width="1" height="3" fill="#4f4f4f"/>
<text x="754.5" y="525" text-anchor="middle" font-family='"Liberation Sans", Arial, sans-serif' font-size="11" fill="#4a4a4a">Nov</text>
<rect x="834" y="508" width="1" height="3" fill="#4f4f4f"/>
<text x="834.5" y="525" text-anchor="middle" font-family='"Liberation Sans", Arial, sans-serif' font-size="11" fill="#4a4a4a">Dec</text>
<rect x="916" y="508" width="1" height="3" fill="#4f4f4f"/>
<text x="916.5" y="525" text-anchor="middle" font-family='"Liberation Sans", Arial, sans-serif' font-size="11" fill="#4a4a4a">2019</text>
<rect x="954" y="410" width="39" height="17" fill="#0000ff"/>
<rect x="954" y="418" width="3" height="1" fill="#fff"/>
<text x="961" y="422" font-family='"Liberation Sans", Arial, sans-serif' font-size="11" font-weight="bold" fill="#fff">407.2</text>
<rect x="954" y="434" width="39" height="17" fill="#ff0000"/>
<rect x="954" y="442" width="3" height="1" fill="#fff"/>
<text x="961" y="446" font-family='"Liberation Sans", Arial, sans-serif' font-size="11" font-weight="bold" fill="#fff">306.3</text>
<rect x="954" y="451" width="39" height="17" fill="#ef5a5a"/>
<rect x="954" y="459" width="3" height="1" fill="#fff"/>
<text x="961" y="463" font-family='"Liberation Sans", Arial, sans-serif' font-size="11" font-weight="bold" fill="#fff">260.7</text>
<text transform="translate(15.6,65.2) scale(1,1.17)" x="0" y="0" font-family='"Liberation Sans", Arial, sans-serif' font-size="11.8" font-weight="bold" fill="#555">BCH / USD, 1D, KRAKEN</text>
<text x="6.5" y="556" font-family='"Liberation Sans", Arial, sans-serif' font-size="13" fill="#1a1a1a" stroke="#1a1a1a" stroke-width="0.25">Created with</text>
<g transform="translate(85,540)" shape-rendering="auto" fill="#5bbde5"><circle cx="7.2" cy="12.7" r="4.2"/><circle cx="13.3" cy="8.3" r="5.7"/><circle cx="18.6" cy="8.6" r="4.1"/><circle cx="22.6" cy="12.6" r="4.3"/><rect x="7" y="12" width="16" height="4.9"/><polyline points="3.2,14.6 11.6,7.6 17.2,15.2 23.6,7.4 26,4.6" stroke="#fff" stroke-width="1.7" fill="none" stroke-linejoin="miter"/></g>
<text x="118.7" y="556" font-family='"Liberation Sans", Arial, sans-serif' font-size="12.6" fill="#3d9fdc">TradingView</text>
</svg>
</body></html>
